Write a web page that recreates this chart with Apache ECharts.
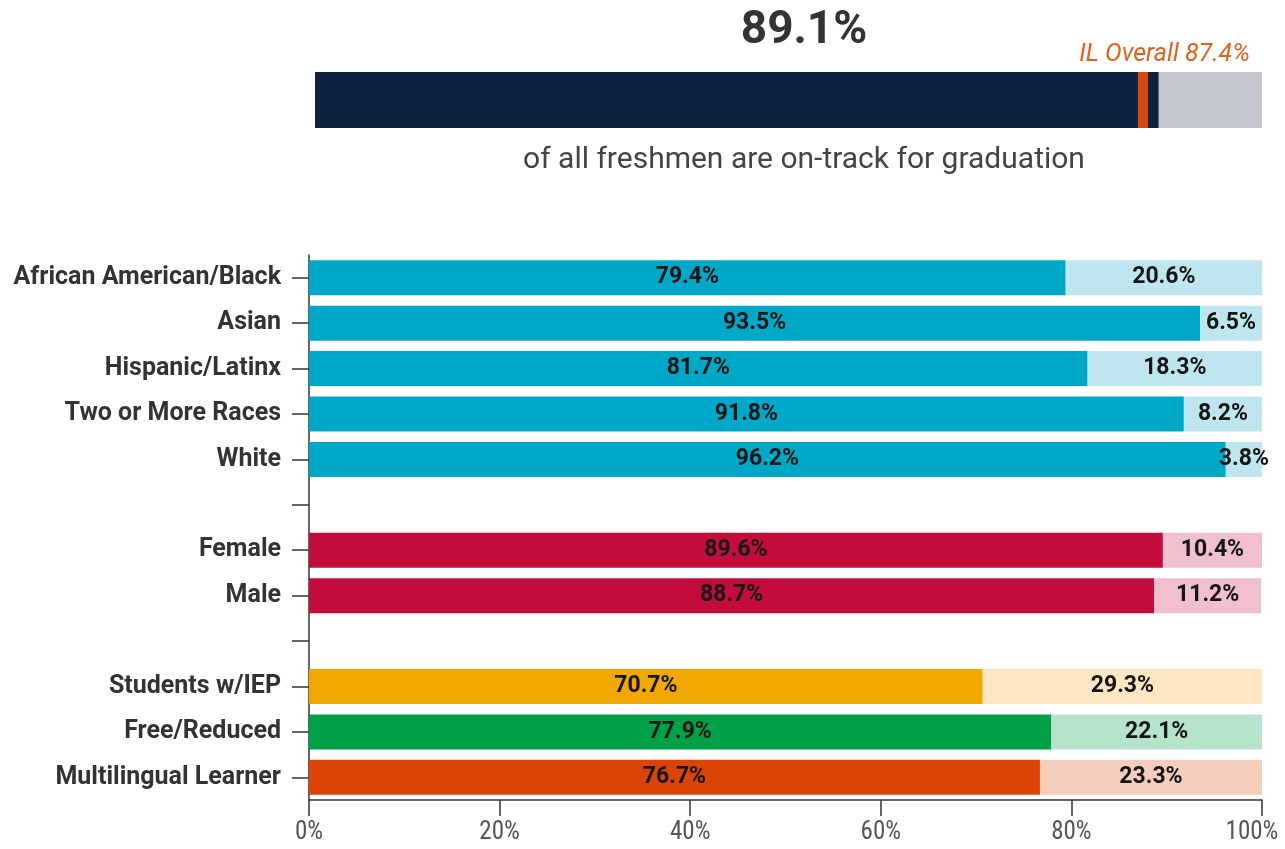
<!DOCTYPE html>
<html>
<head>
<meta charset="utf-8">
<script src="https://cdn.jsdelivr.net/npm/echarts@6/dist/echarts.min.js"></script>
<style>
html,body{margin:0;padding:0;background:#fff;}
#chart{width:1285px;height:849px;}
</style>
</head>
<body>
<div id="chart"></div>
<script>
// ---- data ----
const overallValue = 89.1;
const overallRemainder = 10.9;
const ilOverall = 87.4;
const subtitleText = 'of all freshmen are on-track for graduation';

const categories = [
  'African American/Black', 'Asian', 'Hispanic/Latinx', 'Two or More Races', 'White',
  '',
  'Female', 'Male',
  '',
  'Students w/IEP', 'Free/Reduced', 'Multilingual Learner'
];
const onTrack   = [79.4, 93.5, 81.7, 91.8, 96.2, null, 89.6, 88.7, null, 70.7, 77.9, 76.7];
const notOnTrack = [20.6, 6.5, 18.3, 8.2, 3.8, null, 10.4, 11.2, null, 29.3, 22.1, 23.3];
const groupKey  = ['race','race','race','race','race', null, 'gender','gender', null, 'iep','frl','ml'];
const xTicks = [0, 20, 40, 60, 80, 100];

const darkColors  = {race:'#00a8c8', gender:'#c20d3c', iep:'#f0a800', frl:'#00a048', ml:'#dc4306'};
const lightColors = {race:'#bfe6ee', gender:'#f0c0cc', iep:'#fde7c2', frl:'#b6e3cc', ml:'#f5cdbd'};

const FONT = "Roboto,'Noto Sans',sans-serif";
const CFONT = "'Roboto Condensed',Roboto,sans-serif";

const chart = echarts.init(document.getElementById('chart'), null, {renderer:'canvas'});

const valueLabel = {
  show: true, position: 'inside', fontFamily: FONT, fontWeight: 'bold', fontSize: 23,
  color: '#161616', formatter: p => p.value == null ? '' : p.value.toFixed(1) + '%'
};

const option = {
  animation: false,
  backgroundColor: '#ffffff',
  graphic: [
    {type:'text', x: 804, y: 31, style:{text: overallValue.toFixed(1) + '%', font: "bold 46px " + FONT, fill:'#333333', textAlign:'center', textVerticalAlign:'middle'}},
    {type:'text', x: 804, y: 160, style:{text: subtitleText, font: "30px " + FONT, fill:'#444444', textAlign:'center', textVerticalAlign:'middle'}},
    {type:'text', x: 1250, y: 55, style:{text: 'IL Overall ' + ilOverall.toFixed(1) + '%', font: "italic 25px " + FONT, fill:'#e2621c', textAlign:'right', textVerticalAlign:'middle'}}
  ],
  grid: [
    {left: 315, right: 23, top: 72, height: 56, containLabel: false, outerBoundsMode: 'none'},
    {left: 309, right: 23, top: 255, bottom: 49, containLabel: false, outerBoundsMode: 'none'}
  ],
  xAxis: [
    {gridIndex:0, type:'value', min:0, max:100, show:false},
    {gridIndex:1, type:'value', min:0, max:100, interval:20,
     axisLine:{show:true, lineStyle:{color:'#333', width:1.5}},
     axisTick:{show:true, length:16, lineStyle:{color:'#333', width:1.5}},
     splitLine:{show:false},
     axisLabel:{fontFamily: CFONT, fontSize: 25, color:'#555', margin: 20,
       formatter: v => v === xTicks[xTicks.length - 1] ? '{r|' + v + '%}' : v + '%',
       rich:{r:{fontFamily: CFONT, fontSize: 25, color:'#555', padding:[0, 20, 0, 0]}}}}
  ],
  yAxis: [
    {gridIndex:0, type:'category', data:['All'], show:false},
    {gridIndex:1, type:'category', data: categories, inverse:true,
     axisLine:{show:true, lineStyle:{color:'#333', width:1.5}},
     axisTick:{show:true, alignWithLabel:true, length:17, lineStyle:{color:'#333', width:1.5}},
     axisLabel:{fontFamily: FONT, fontSize: 25, fontWeight:'bold', color:'#333', margin: 28}}
  ],
  series: [
    {type:'bar', xAxisIndex:0, yAxisIndex:0, stack:'top', barWidth:'100%', data:[overallValue],
     itemStyle:{color:'#0f223f'},
     markLine:{symbol:'none', silent:true, label:{show:false},
       lineStyle:{type:'solid', color:'#d9480f', width:10}, data:[{xAxis: ilOverall}]}},
    {type:'bar', xAxisIndex:0, yAxisIndex:0, stack:'top', barWidth:'100%', data:[overallRemainder],
     itemStyle:{color:'#c4c7cd'}},
    {type:'bar', xAxisIndex:1, yAxisIndex:1, stack:'grp', barWidth: 35,
     data: onTrack.map((v,i) => v == null ? '-' : {value:v, itemStyle:{color: darkColors[groupKey[i]]}}),
     label: valueLabel},
    {type:'bar', xAxisIndex:1, yAxisIndex:1, stack:'grp', barWidth: 35,
     data: notOnTrack.map((v,i) => v == null ? '-' : {value:v, itemStyle:{color: lightColors[groupKey[i]]}}),
     label: valueLabel}
  ]
};
chart.setOption(option);
</script>
</body>
</html>
